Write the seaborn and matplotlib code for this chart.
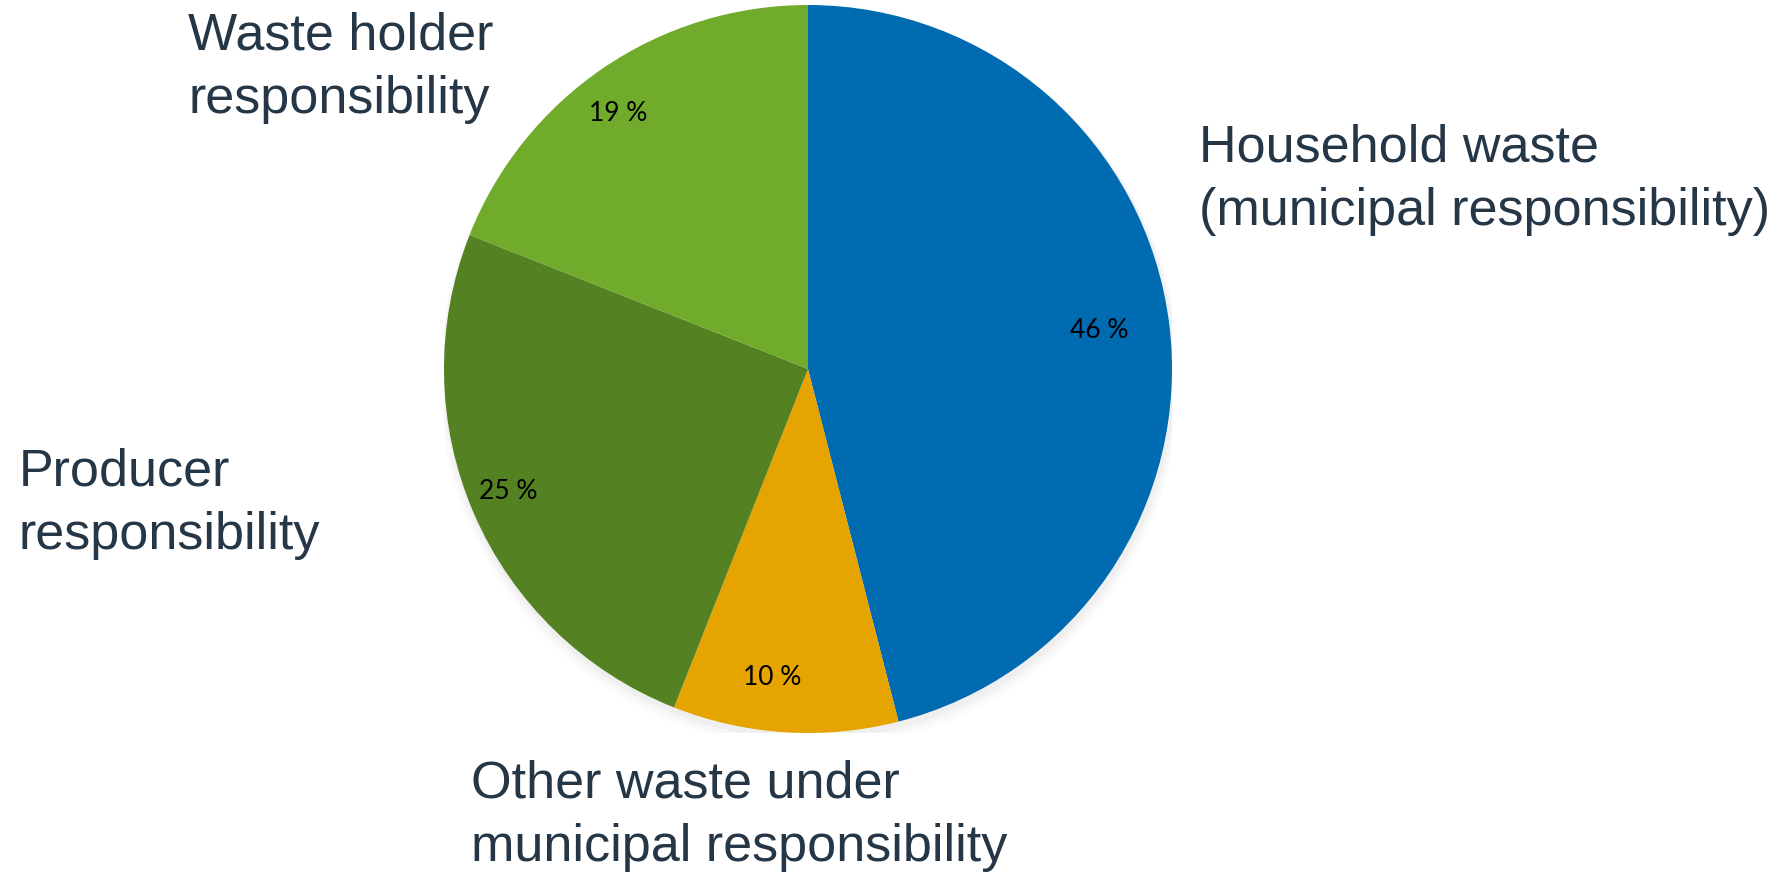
import matplotlib
matplotlib.use("Agg")
import matplotlib.pyplot as plt
import matplotlib.transforms as mtransforms
import seaborn as sns

categories = ["Household waste\n(municipal responsibility)",
              "Other waste under\nmunicipal responsibility",
              "Producer\nresponsibility",
              "Waste holder\nresponsibility"]
values = [46, 10, 25, 19]
colors = ["#006BB1", "#E5A400", "#548121", "#70AB2B"]

sns.set_theme(style="white")
plt.rcParams['font.family'] = ['Liberation Sans', 'DejaVu Sans']

W, H = 1778, 877
fig = plt.figure(figsize=(W / 100, H / 100), dpi=100)
cx, cy, r = 808, 369, 364
ax = fig.add_axes([(cx - r) / W, (H - cy - r) / H, 2 * r / W, 2 * r / H])

# soft shadow
for i, a in enumerate([0.05, 0.04, 0.03]):
    ax.add_patch(plt.Circle((0.004, -0.012 - 0.006 * i), 1.0 + 0.006 * (i + 1),
                            color="#808080", alpha=a, lw=0, zorder=0))

wedges, texts, autotexts = ax.pie(
    values, colors=colors, startangle=90, counterclock=False,
    autopct=lambda p: f"{p:.0f} %", pctdistance=0.85,
    wedgeprops=dict(linewidth=0),
    textprops=dict(fontsize=19, color="black", family=["Lato", "DejaVu Sans"]))
shift = mtransforms.ScaledTranslation(-16 / 100, 0, fig.dpi_scale_trans)
for t in autotexts:
    t.set_transform(ax.transData + shift)
ax.set_xlim(-1, 1)
ax.set_ylim(-1, 1)
ax.set_aspect("equal")
ax.axis("off")

label_color = "#253746"
label_pos = {
    categories[0]: (1199, 180),
    categories[1]: (471, 816),
    categories[2]: (19, 504),
    categories[3]: (188, 68),
}
for cat, (x, y) in label_pos.items():
    fig.text(x / W, 1 - y / H, cat, ha="left", va="center", fontsize=37.5,
             color=label_color, linespacing=1.39)

fig.savefig("out.png", dpi=100)
